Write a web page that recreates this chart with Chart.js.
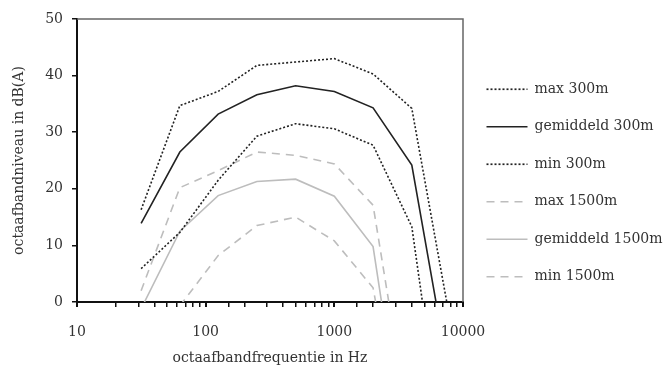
<!DOCTYPE html>
<html>
<head>
<meta charset="utf-8">
<script src="https://cdn.jsdelivr.net/npm/chart.js@4.4.1/dist/chart.umd.min.js"></script>
<style>
  html, body { margin: 0; padding: 0; background: #fff; }
  #wrap { width: 669px; height: 367px; position: relative; }
</style>
</head>
<body>
<div id="wrap"><canvas id="c" width="669" height="367"></canvas></div>
<script>
const freqs = [31.5, 63, 125, 250, 500, 1000, 2000, 4000, 8000];
const max300 = [16.3, 34.7, 37.2, 41.8, 42.4, 43.0, 40.3, 34.2, -3.7];
const mean300 = [13.9, 26.5, 33.2, 36.6, 38.2, 37.2, 34.3, 24.2, -14.5];
const min300 = [5.9, 12.3, 21.5, 29.3, 31.5, 30.6, 27.7, 13.3, -35];
const max1500 = [2.0, 20.2, 23.2, 26.5, 25.9, 24.4, 17.1, -25, null];
const mean1500 = [-1.2, 12.5, 18.8, 21.3, 21.7, 18.7, 9.8, -35, null];
const min1500 = [null, -0.7, 8.2, 13.5, 15.0, 10.8, 2.5, -35, null];
const seriesNames = ['max 300m', 'gemiddeld 300m', 'min 300m', 'max 1500m', 'gemiddeld 1500m', 'min 1500m'];
const xTickLabels = [10, 100, 1000, 10000];
const yTickLabels = [0, 10, 20, 30, 40, 50];

const FONT = "'DejaVu Serif', serif";
const dark = '#222222';
const light = '#bdbdbd';

function pts(arr) { return freqs.map((f, i) => ({x: f, y: arr[i]})); }

const styles = [
  {color: dark, dash: [2, 2]},
  {color: dark, dash: []},
  {color: dark, dash: [2, 2]},
  {color: light, dash: [8, 6]},
  {color: light, dash: []},
  {color: light, dash: [8, 6]}
];
const allSeries = [max300, mean300, min300, max1500, mean1500, min1500];

const datasets = allSeries.map((s, i) => ({
  label: seriesNames[i],
  data: pts(s),
  borderColor: styles[i].color,
  backgroundColor: styles[i].color,
  borderDash: styles[i].dash,
  borderWidth: 1.6,
  pointRadius: 0,
  pointStyle: 'line',
  tension: 0,
  spanGaps: false,
  fill: false
}));

const frame = {
  id: 'frame',
  afterLayout(chart) {
    if (chart.legend) { chart.legend.top = 0; chart.legend.bottom = 366; }
  },
  afterDatasetsDraw(chart) {
    const {ctx, chartArea: a} = chart;
    ctx.save();
    ctx.strokeStyle = '#666';
    ctx.lineWidth = 1.5;
    ctx.beginPath();
    ctx.moveTo(a.left, a.top);
    ctx.lineTo(a.right, a.top);
    ctx.lineTo(a.right, a.bottom);
    ctx.stroke();
    ctx.restore();
  }
};

new Chart(document.getElementById('c'), {
  type: 'line',
  data: { datasets },
  plugins: [frame],
  options: {
    responsive: false,
    animation: false,
    layout: { padding: { top: 19, left: 0, right: 0, bottom: 0 } },
    plugins: {
      tooltip: { enabled: false },
      legend: {
        position: 'right',
        align: 'center',
        maxWidth: 206,
        labels: {
          usePointStyle: true,
          pointStyle: 'line',
          pointStyleWidth: 41,
          boxHeight: 14,
          padding: 23.5,
          color: '#333',
          font: { family: FONT, size: 14 },
          generateLabels(chart) {
            const items = Chart.defaults.plugins.legend.labels.generateLabels(chart);
            items.forEach((it, i) => {
              it.lineDash = styles[i].dash;
              it.strokeStyle = styles[i].color;
              it.lineWidth = 1.7;
              it.pointStyle = 'line';
            });
            return items;
          }
        }
      }
    },
    scales: {
      x: {
        type: 'logarithmic',
        min: 10,
        max: 10000,
        afterFit(scale) { scale.height = 65; },
        border: { display: true, color: '#111', width: 2 },
        grid: { display: true, drawOnChartArea: false, drawTicks: true, tickLength: 5, color: '#111',
                lineWidth: (ctx) => (ctx.tick && xTickLabels.includes(ctx.tick.value) ? 2 : 1.5) },
        ticks: {
          autoSkip: false,
          maxRotation: 0,
          padding: 17,
          color: '#333',
          font: { family: FONT, size: 14 },
          callback: (v) => (xTickLabels.includes(v) ? String(v) : '')
        },
        title: { display: true, text: 'octaafbandfrequentie in Hz', color: '#333',
                 font: { family: FONT, size: 14 }, padding: { top: 0, bottom: 0 } }
      },
      y: {
        min: 0,
        max: 50,
        afterFit(scale) { scale.width = 77; },
        afterBuildTicks(scale) { scale.ticks = yTickLabels.map(v => ({value: v})); },
        border: { display: true, color: '#111', width: 2 },
        grid: { display: true, drawOnChartArea: false, drawTicks: true, tickLength: 5, color: '#111', lineWidth: 1.5 },
        ticks: {
          padding: 9,
          color: '#333',
          font: { family: FONT, size: 14 }
        },
        title: { display: true, text: 'octaafbandniveau in dB(A)', color: '#333',
                 font: { family: FONT, size: 14 }, padding: { top: 10.6, bottom: 0 } }
      }
    }
  }
});
</script>
</body>
</html>
